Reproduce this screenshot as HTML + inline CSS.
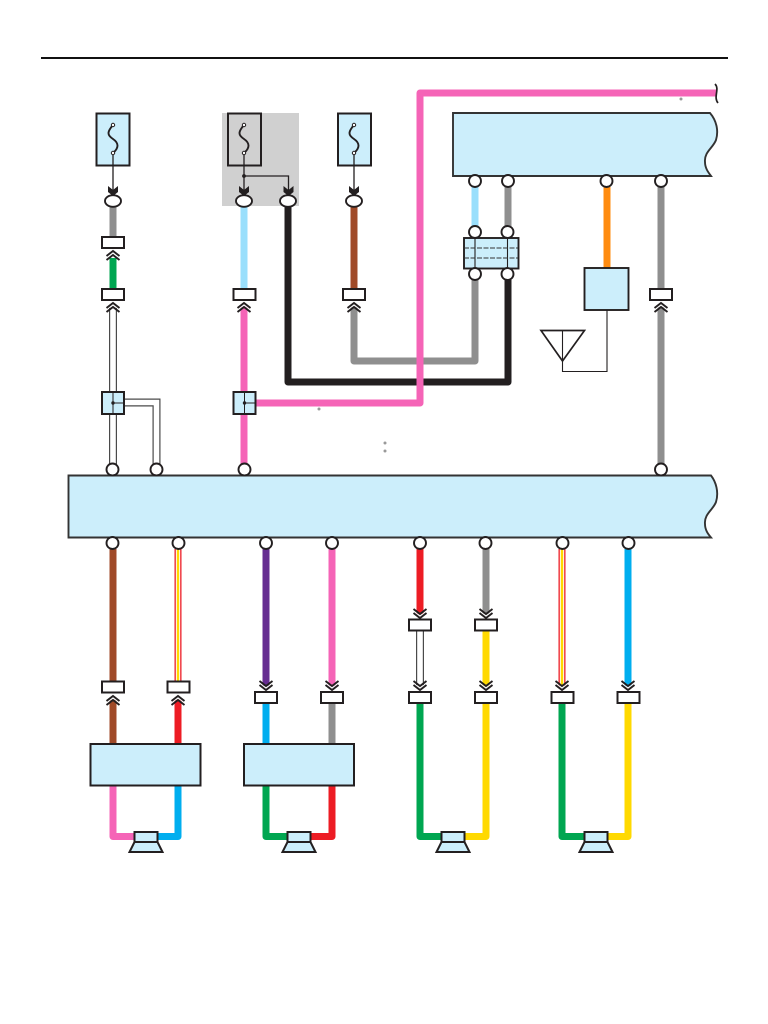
<!DOCTYPE html>
<html><head><meta charset="utf-8"><style>html,body{margin:0;padding:0;background:#fff}svg{display:block}</style></head>
<body>
<svg xmlns="http://www.w3.org/2000/svg" width="768" height="1024" viewBox="0 0 768 1024">
<defs>
<g id="up"><polygon points="-7,-2 7,-2 7,8 0,4 -7,8" fill="#fff"/><path d="M-6.500,6 L0,1 L6.500,6 M-6.500,10 L0,5 L6.500,10" fill="none" stroke="#231f20" stroke-width="1.900"/></g>
<g id="dn"><polygon points="-7,2 7,2 7,-8 0,-4 -7,-8" fill="#fff"/><path d="M-6.500,-6 L0,-1 L6.500,-6 M-6.500,-10 L0,-5 L6.500,-10" fill="none" stroke="#231f20" stroke-width="1.900"/></g>
<rect id="cn" x="-11" y="-5.500" width="22" height="11" fill="#fff" stroke="#231f20" stroke-width="2"/>
<circle id="c" r="6" fill="#fff" stroke="#231f20" stroke-width="1.900"/>
<ellipse id="ov" rx="8" ry="5.800" fill="#fff" stroke="#231f20" stroke-width="1.900"/>
<polygon id="ah" points="-5,-10 0,-6 5,-10 5,-4 0,0 -5,-4" fill="#231f20"/>
<g id="fs"><path d="M0,0 C-6,7 -6,10 0,14 C6,18 6,23 0,28" fill="none" stroke="#231f20" stroke-width="1.900"/><circle r="1.700" fill="#fff" stroke="#231f20" stroke-width="1"/><circle cy="28" r="1.700" fill="#fff" stroke="#231f20" stroke-width="1"/></g>
<g id="sp"><rect x="-11.500" y="0" width="23" height="10" fill="#cceefb" stroke="#231f20" stroke-width="2"/><polygon points="-11.500,10 11.500,10 16.500,20 -16.500,20" fill="#cceefb" stroke="#231f20" stroke-width="2"/></g>
</defs>
<rect width="768" height="1024" fill="#fff"/>
<rect x="41" y="57" width="687" height="2" fill="#111"/>

<rect x="222" y="113" width="77" height="93" fill="#d0d0d0"/>

<g fill="none" stroke-width="7" stroke-linejoin="round" stroke-linecap="butt">
<path d="M113,207V237" stroke="#8f8f8f"/>
<path d="M113,258V289" stroke="#00a651"/>
<path d="M244,207V289" stroke="#9adffc"/>
<path d="M244,306V465" stroke="#f564b7"/>
<path d="M354,207V289" stroke="#a04a28"/>
<path d="M288,207V382H508V280" stroke="#231f20"/>
<path d="M354,306V361H475V280" stroke="#8f8f8f"/>
<path d="M475,187V227" stroke="#9adffc"/>
<path d="M508,187V227" stroke="#8f8f8f"/>
<path d="M607,187V268" stroke="#ff8c10"/>
<path d="M661,187V289M661,306V465" stroke="#8f8f8f"/>
<path d="M255,403H420V93H716" stroke="#f564b7"/>

<g stroke-linejoin="miter">
<path d="M113,306V465M124,402.500H156.500V465" stroke="#4a4a4a" stroke-width="8"/>
<path d="M113,306V465M124,402.500H156.500V465" stroke="#fff" stroke-width="5.600"/>
</g>

<path d="M113,549V682M113,693V744" stroke="#a04a28"/>
<path d="M178,549V682" stroke="#ed1c24"/>
<path d="M178,549V682" stroke="#fff" stroke-width="4.400"/>
<path d="M178,549V682" stroke="#ffd900" stroke-width="2.400"/>
<path d="M178,693V744" stroke="#ed1c24"/>
<path d="M266,549V690" stroke="#662d91"/>
<path d="M332,549V690" stroke="#f564b7"/>
<path d="M266,703V744" stroke="#00aeef"/>
<path d="M332,703V744" stroke="#8f8f8f"/>
<path d="M420,549V618" stroke="#ed1c24"/>
<path d="M486,549V618" stroke="#8f8f8f"/>
<path d="M420,631V690" stroke="#4a4a4a" stroke-width="8"/>
<path d="M420,631V690" stroke="#fff" stroke-width="5.600"/>
<path d="M486,631V690" stroke="#ffd900"/>
<path d="M562,549V690" stroke="#ed1c24"/>
<path d="M562,549V690" stroke="#fff" stroke-width="4.400"/>
<path d="M562,549V690" stroke="#ffd900" stroke-width="2.400"/>
<path d="M628,549V690" stroke="#00aeef"/>

<path d="M113,785V836.500H135" stroke="#f564b7"/>
<path d="M178,785V836.500H157" stroke="#00aeef"/>
<path d="M266,785V836.500H288" stroke="#00a651"/>
<path d="M332,785V836.500H310" stroke="#ed1c24"/>
<path d="M420,703V836.500H442" stroke="#00a651"/>
<path d="M486,703V836.500H464" stroke="#ffd900"/>
<path d="M562,703V836.500H585" stroke="#00a651"/>
<path d="M628,703V836.500H607" stroke="#ffd900"/>
</g>

<!-- break mark on pink wire -->
<path d="M715,84 C720,89 713,97 718,103" fill="none" stroke="#231f20" stroke-width="1.700"/>

<!-- fuses -->
<rect x="96.500" y="113.500" width="33" height="52" fill="#cceefb" stroke="#231f20" stroke-width="2"/>
<rect x="228" y="113.500" width="33" height="52" fill="#d0d0d0" stroke="#231f20" stroke-width="2"/>
<rect x="338" y="113.500" width="33" height="52" fill="#cceefb" stroke="#231f20" stroke-width="2"/>
<g fill="none" stroke="#231f20" stroke-width="1.300">
<path d="M113,153V190M244,153V190M244,176H288.500V190M354,153V190"/>
</g>
<circle cx="244" cy="176" r="1.900" fill="#231f20"/>
<use href="#fs" x="113" y="125"/><use href="#fs" x="244" y="125"/><use href="#fs" x="354" y="125"/>
<use href="#ah" x="113" y="196"/><use href="#ah" x="244" y="196"/><use href="#ah" x="288.500" y="196"/><use href="#ah" x="354" y="196"/>
<use href="#ov" x="113" y="201"/><use href="#ov" x="244" y="201"/><use href="#ov" x="288" y="201"/><use href="#ov" x="354" y="201"/>

<!-- top module -->
<path d="M453,113H710C716,120 719,130 716,140C713,148 704,152 705,162C705,168 708,172 711,176H453Z" fill="#cceefb" stroke="#333" stroke-width="1.900"/>
<!-- main module -->
<path d="M68.500,475.500H711C716,482 719,492 716,502C713,510 704,514 705,524C705,530 708,534 711,537.500H68.500Z" fill="#cceefb" stroke="#333" stroke-width="1.900"/>

<!-- multi connector -->
<rect x="464" y="238" width="54.500" height="30.500" fill="#cceefb" stroke="#231f20" stroke-width="1.900"/>
<path d="M475,238V268M507.500,238V268" stroke="#231f20" stroke-width="1.100"/>
<path d="M464,248H518M464,258H518" stroke="#333" stroke-width="1.100" stroke-dasharray="5 1.500"/>

<!-- receiver box + antenna -->
<rect x="584.500" y="268" width="44" height="42" fill="#cceefb" stroke="#231f20" stroke-width="1.900"/>
<path d="M607,310V371.500H562.500V330" fill="none" stroke="#231f20" stroke-width="1.100"/>
<polygon points="541,330.500 584.500,330.500 562.500,361" fill="#fff" stroke="#231f20" stroke-width="1.700"/>
<path d="M562.500,330.500V361" stroke="#231f20" stroke-width="1.100"/>

<!-- junction boxes -->
<rect x="102" y="392" width="22" height="22" fill="#cceefb" stroke="#231f20" stroke-width="2"/>
<rect x="233.500" y="392" width="22" height="22" fill="#cceefb" stroke="#231f20" stroke-width="2"/>
<path d="M113,392V414M113,403H124M244.500,392V414M244.500,403H255" stroke="#231f20" stroke-width="1"/>
<circle cx="113" cy="403" r="1.700" fill="#231f20"/><circle cx="244.500" cy="403" r="1.700" fill="#231f20"/>

<!-- lower modules -->
<rect x="90.500" y="744" width="110" height="41.500" fill="#cceefb" stroke="#231f20" stroke-width="2"/>
<rect x="244" y="744" width="110" height="41.500" fill="#cceefb" stroke="#231f20" stroke-width="2"/>

<!-- chevrons -->
<use href="#up" x="113" y="250"/><use href="#up" x="113" y="302"/><use href="#up" x="244" y="302"/><use href="#up" x="354" y="302"/><use href="#up" x="661" y="302"/>
<use href="#up" x="113" y="695"/><use href="#up" x="178" y="695"/>
<use href="#dn" x="266" y="691"/><use href="#dn" x="332" y="691"/>
<use href="#dn" x="420" y="619"/><use href="#dn" x="486" y="619"/>
<use href="#dn" x="420" y="691"/><use href="#dn" x="486" y="691"/><use href="#dn" x="562" y="691"/><use href="#dn" x="628" y="691"/>

<!-- connectors -->
<use href="#cn" x="113" y="242.500"/><use href="#cn" x="113" y="294.500"/><use href="#cn" x="244.500" y="294.500"/><use href="#cn" x="354" y="294.500"/><use href="#cn" x="661" y="294.500"/>
<use href="#cn" x="113" y="687"/><use href="#cn" x="178.500" y="687"/>
<use href="#cn" x="266" y="697.500"/><use href="#cn" x="332" y="697.500"/>
<use href="#cn" x="420" y="625"/><use href="#cn" x="486" y="625"/>
<use href="#cn" x="420" y="697.500"/><use href="#cn" x="486" y="697.500"/><use href="#cn" x="562.500" y="697.500"/><use href="#cn" x="628.500" y="697.500"/>

<!-- circles -->
<use href="#c" x="475" y="181"/><use href="#c" x="508" y="181"/><use href="#c" x="606.500" y="181"/><use href="#c" x="661" y="181"/>
<use href="#c" x="475" y="232"/><use href="#c" x="507.500" y="232"/><use href="#c" x="475" y="274"/><use href="#c" x="507.500" y="274"/>
<use href="#c" x="112.500" y="469.500"/><use href="#c" x="156.500" y="469.500"/><use href="#c" x="244.500" y="469.500"/><use href="#c" x="661" y="469.500"/>
<use href="#c" x="112.500" y="543"/><use href="#c" x="178.500" y="543"/><use href="#c" x="266" y="543"/><use href="#c" x="332" y="543"/><use href="#c" x="420" y="543"/><use href="#c" x="485.500" y="543"/><use href="#c" x="562.500" y="543"/><use href="#c" x="628.500" y="543"/>

<!-- speakers -->
<use href="#sp" x="146" y="832"/><use href="#sp" x="299" y="832"/><use href="#sp" x="453" y="832"/><use href="#sp" x="596" y="832"/>

<!-- tiny marks -->
<g fill="#999"><circle cx="681" cy="99" r="1.500"/><circle cx="319" cy="409" r="1.500"/><circle cx="385" cy="443" r="1.500"/><circle cx="385" cy="451" r="1.500"/></g>
</svg>
</body></html>
